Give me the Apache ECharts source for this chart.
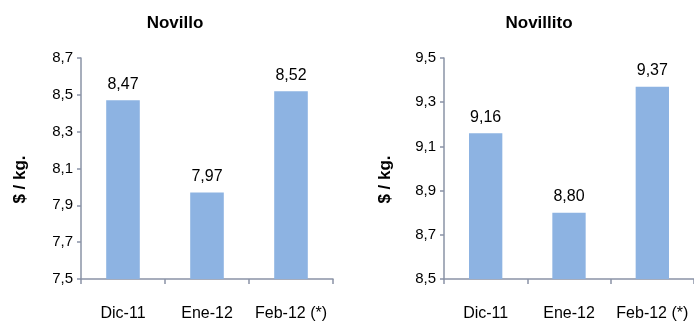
<!DOCTYPE html>
<html>
<head>
<meta charset="utf-8">
<script src="https://cdn.jsdelivr.net/npm/echarts@6/dist/echarts.min.js"></script>
<style>
html,body{margin:0;padding:0;background:#fff;}
#chart{width:694px;height:325px;}
</style>
</head>
<body>
<div id="chart"></div>
<script>
const categories = ['Dic-11', 'Ene-12', 'Feb-12 (*)'];
const novilloValues = [8.47, 7.97, 8.52];
const novillitoValues = [9.16, 8.80, 9.37];
const novilloTitle = 'Novillo';
const novillitoTitle = 'Novillito';
const yAxisName = '$ / kg.';
const novilloAxis = { min: 7.5, max: 8.7, interval: 0.2 };
const novillitoAxis = { min: 8.5, max: 9.5, interval: 0.2 };

const FONT = 'Liberation Sans, Arial, sans-serif';
const AXIS_COLOR = '#8a93a6';
const BAR_COLOR = '#8db3e2';
const fmt = v => Number(v).toFixed(1).replace('.', ',');
const fmt2 = v => Number(v).toFixed(2).replace('.', ',');

function xAxis(gridIndex) {
  return {
    type: 'category', gridIndex, data: categories,
    axisLine: { lineStyle: { color: AXIS_COLOR, width: 1.5 } },
    axisTick: { show: true, length: 5, lineStyle: { color: AXIS_COLOR, width: 1.5 } },
    axisLabel: { interval: 0, color: '#000', fontFamily: FONT, fontSize: 16, margin: 27 }
  };
}
function yAxis(gridIndex, ax, gap) {
  return {
    type: 'value', gridIndex, min: ax.min, max: ax.max, interval: ax.interval,
    name: yAxisName, nameLocation: 'middle', nameGap: gap, nameRotate: 90,
    nameTextStyle: { color: '#000', fontFamily: FONT, fontSize: 17, fontWeight: 'bold',
      padding: [0, 22, 0, 0] },
    axisLine: { show: true, lineStyle: { color: AXIS_COLOR, width: 1.5 } },
    axisTick: { show: true, length: 4, lineStyle: { color: AXIS_COLOR, width: 1.5 } },
    splitLine: { show: false },
    axisLabel: { color: '#000', fontFamily: FONT, fontSize: 15, margin: 8, formatter: fmt }
  };
}
function series(idx, data) {
  return {
    type: 'bar', xAxisIndex: idx, yAxisIndex: idx, data,
    barWidth: '40%', itemStyle: { color: BAR_COLOR },
    label: { show: true, position: 'top', distance: 8, color: '#000', fontFamily: FONT, fontSize: 16,
      formatter: p => fmt2(p.value) }
  };
}

const chart = echarts.init(document.getElementById('chart'), null, { renderer: 'canvas' });
chart.setOption({
  animation: false,
  backgroundColor: '#fff',
  title: [
    { text: novilloTitle, left: 170, top: 10, textAlign: 'center',
      textStyle: { fontFamily: FONT, fontSize: 17, fontWeight: 'bold', color: '#000' } },
    { text: novillitoTitle, left: 534, top: 10, textAlign: 'center',
      textStyle: { fontFamily: FONT, fontSize: 17, fontWeight: 'bold', color: '#000' } }
  ],
  grid: [
    { left: 81, top: 58, width: 252, height: 221 },
    { left: 444, top: 58, width: 254, height: 221 }
  ],
  xAxis: [xAxis(0), xAxis(1)],
  yAxis: [yAxis(0, novilloAxis, 52), yAxis(1, novillitoAxis, 50)],
  series: [series(0, novilloValues), series(1, novillitoValues)]
});
</script>
</body>
</html>
